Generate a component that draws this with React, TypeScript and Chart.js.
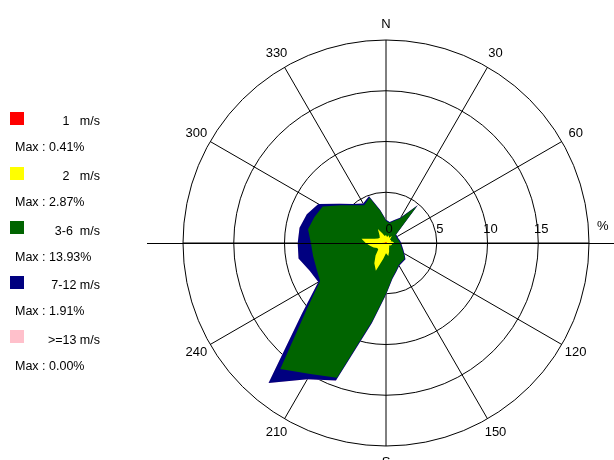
import { useEffect, useRef } from 'react';
import { Chart, registerables } from 'chart.js';

Chart.register(...registerables);

// Wind directions (degrees, clockwise from north)
const directions = [0, 10, 20, 30, 40, 50, 60, 70, 80, 90, 100, 110, 120, 130, 140, 150, 160, 170,
  180, 190, 200, 210, 220, 230, 240, 250, 260, 270, 280, 290, 300, 310, 320, 330, 340, 350];

// Frequency (%) per direction for each speed class
const speed1 = [0.10, 0.08, 0.08, 0.08, 0.08, 0.08, 0.08, 0.08, 0.08, 0.10, 0.08, 0.08, 0.08, 0.08, 0.08, 0.08, 0.08, 0.08,
  0.10, 0.08, 0.05, 0.08, 0.08, 0.08, 0.08, 0.08, 0.08, 0.41, 0.08, 0.08, 0.08, 0.08, 0.08, 0.08, 0.08, 0.08];
const speed2 = [0.70, 0.52, 0.72, 0.52, 0.82, 0.42, 0.52, 0.42, 0.62, 0.70, 0.52, 0.52, 0.42, 0.32, 0.42, 0.52, 0.82, 1.22,
  0.90, 1.52, 2.87, 2.22, 1.52, 0.92, 0.92, 1.22, 1.52, 1.59, 2.37, 1.12, 0.82, 0.72, 0.92, 1.52, 0.92, 0.62];
const speed3to6 = [1.40, 1.40, 1.50, 2.20, 3.85, 0.70, 0.60, 0.70, 0.60, 0.60, 0.90, 1.10, 1.50, 2.00, 1.90, 1.90, 2.00, 2.20,
  4.00, 6.20, 11.20, 12.60, 14.60, 9.20, 6.50, 6.00, 5.70, 5.40, 5.35, 6.30, 6.30, 5.00, 3.85, 2.70, 3.75, 2.50];
const speed7to12 = [0.10, 0.10, 0.10, 0.10, 0.15, 0.10, 0.10, 0.10, 0.10, 0.10, 0.10, 0.10, 0.10, 0.10, 0.10, 0.10, 0.10, 0.10,
  0.10, 0.20, 0.30, 0.60, 1.80, 0.60, 0.20, 0.70, 1.45, 1.30, 0.85, 0.80, 0.50, 0.20, 0.15, 0.20, 0.15, 0.10];
const speed13plus = [0, 0, 0, 0, 0, 0, 0, 0, 0, 0, 0, 0, 0, 0, 0, 0, 0, 0,
  0, 0, 0, 0, 0, 0, 0, 0, 0, 0, 0, 0, 0, 0, 0, 0, 0, 0];

const classLabels = ['1   m/s', '2   m/s', '3-6  m/s', '7-12 m/s', '>=13 m/s'];
const maxLabels = ['Max : 0.41%', 'Max : 2.87%', 'Max : 13.93%', 'Max : 1.91%', 'Max : 0.00%'];
const classColors = ['#ff0000', '#ffff00', '#006400', '#000080', '#ffc0cb'];

const compassLabels: Record<number, string> = {
  0: 'N', 30: '30', 60: '60', 120: '120', 150: '150', 180: 'S', 210: '210', 240: '240', 300: '300', 330: '330',
};
const ringTicks = [0, 5, 10, 15];
const unitLabel = '%';

const FONT = '"Liberation Sans", Arial, sans-serif';

function cumulative(series: number[][]): number[][] {
  const out: number[][] = [];
  let acc = directions.map(() => 0);
  for (const s of series) {
    acc = acc.map((v, i) => +(v + s[i]).toFixed(3));
    out.push(acc.slice());
  }
  return out;
}

const overlayPlugin = {
  id: 'roseOverlay',
  afterDraw(chart: any) {
    const ctx: CanvasRenderingContext2D = chart.ctx;
    const s = chart.scales.r;
    const cx = s.xCenter;
    const cy = s.yCenter;
    const R = s.drawingArea;
    ctx.save();
    // extended east-west axis
    ctx.strokeStyle = '#000';
    ctx.lineWidth = 1;
    ctx.beginPath();
    ctx.moveTo(cx - R - 36, cy + 0.5);
    ctx.lineTo(chart.width, cy + 0.5);
    ctx.stroke();

    // compass labels
    ctx.fillStyle = '#000';
    ctx.font = `13px ${FONT}`;
    ctx.textAlign = 'center';
    ctx.textBaseline = 'middle';
    directions.forEach((d, i) => {
      const lab = compassLabels[d];
      if (!lab) return;
      const p = s.getPointPosition(i, R + 16);
      ctx.fillText(lab, p.x, p.y);
    });

    // ring value labels along the east axis
    const eastIndex = directions.indexOf(90);
    ringTicks.forEach((v) => {
      const p = s.getPointPositionForValue(eastIndex, v);
      ctx.fillText(String(v), p.x + 3, cy - 14);
    });
    ctx.textAlign = 'left';
    ctx.fillText(unitLabel, cx + R + 8, cy - 17);

    // legend
    const top0 = 112;
    const step = 54.6;
    ctx.font = `12.5px ${FONT}`;
    classLabels.forEach((lab, i) => {
      const top = top0 + i * step;
      ctx.fillStyle = classColors[i];
      ctx.fillRect(10, Math.round(top), 14, 13);
      ctx.fillStyle = '#000';
      ctx.textAlign = 'right';
      ctx.textBaseline = 'middle';
      ctx.fillText(lab, 100, top + 10);
      ctx.textAlign = 'left';
      ctx.fillText(maxLabels[i], 15, top + 36);
    });
    ctx.restore();
  },
};

export default function App() {
  const ref = useRef<HTMLCanvasElement | null>(null);
  useEffect(() => {
    if (!ref.current) return;
    const cum = cumulative([speed1, speed2, speed3to6, speed7to12, speed13plus]);
    const chart = new Chart(ref.current, {
      type: 'radar',
      data: {
        labels: directions.map(String),
        datasets: cum.map((values, i) => ({
          label: classLabels[i],
          data: values,
          backgroundColor: classColors[i],
          borderColor: 'rgba(0,0,0,0)',
          borderWidth: 0,
          fill: 'origin',
          pointRadius: 0,
          pointHoverRadius: 0,
          tension: 0,
        })),
      },
      options: {
        responsive: false,
        animation: false,
        layout: { padding: { left: 183, right: 25, top: 40, bottom: 14 } },
        plugins: { legend: { display: false }, tooltip: { enabled: false } },
        scales: {
          r: {
            min: 0,
            max: 20,
            startAngle: 0,
            z: 1,
            ticks: { display: false, stepSize: 5 },
            pointLabels: { display: false },
            grid: { circular: true, color: '#000', lineWidth: 1 },
            angleLines: {
              display: true,
              color: '#000',
              lineWidth: (c: any) => (directions[c.index] % 30 === 0 ? 1 : 0),
            },
          },
        },
      },
      plugins: [overlayPlugin],
    });
    return () => chart.destroy();
  }, []);
  return (
    <div style={{ position: 'absolute', left: 0, top: 0, width: 614, height: 460, background: '#fff' }}>
      <canvas ref={ref} width={614} height={460} style={{ display: 'block' }} />
    </div>
  );
}
